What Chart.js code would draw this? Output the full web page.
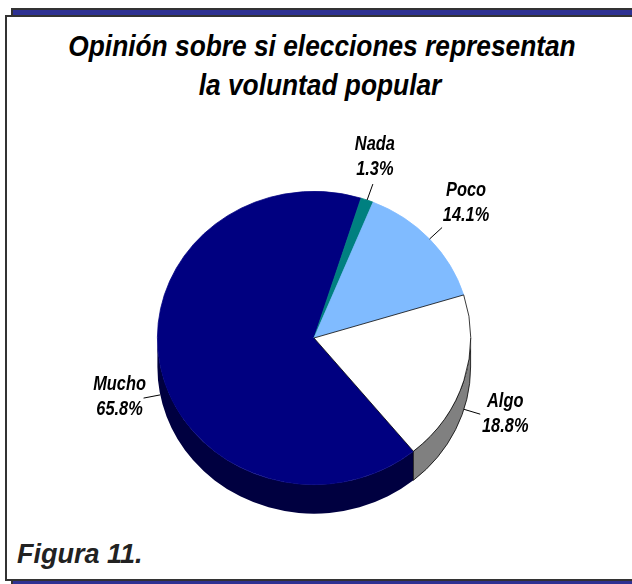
<!DOCTYPE html>
<html>
<head>
    <meta charset="utf-8" />
    <style>
        html, body { margin: 0; padding: 0; background: #fff; }
        #page { position: relative; width: 632px; height: 584px; overflow: hidden; background: #fff; }
        .back { position: absolute; left: 11px; top: 8px; width: 640px; height: 590px; box-sizing: border-box;
            background: #2e3192; border: 2px solid #333; }
        .front { position: absolute; left: 5px; top: 15px; width: 640px; height: 566px; box-sizing: border-box;
            background: #fff; border: 2px solid #333; }
        .title { position: absolute; left: 0; width: 640px; text-align: center; white-space: nowrap; color: #000;
            font: italic bold 30px "Liberation Sans", Arial, sans-serif; line-height: 32px; transform-origin: center; }
        .caption { position: absolute; left: 17px; top: 539px; color: #222;
            font: italic bold 27px "Liberation Sans", Arial, sans-serif; line-height: 30px; }
        canvas { position: absolute; left: 0; top: 0; }
    </style>
</head>
<body>
    <div id="page">
        <div class="back"></div>
        <div class="front"></div>
        <div class="title" style="top: 30px; transform: translateX(2px) scaleX(.877);">Opinión sobre si elecciones representan</div>
        <div class="title" style="top: 69px; transform: translateX(0px) scaleX(.877);">la voluntad popular</div>
        <div class="caption">Figura 11.</div>
        <canvas id="chart" width="632" height="584"></canvas>
    </div>

    <script src="https://cdn.jsdelivr.net/npm/chart.js"></script>
    <script type="text/javascript">
        // datos
        var categorias = ['Mucho', 'Nada', 'Poco', 'Algo'];
        var porcentajes = [65.8, 1.3, 14.1, 18.8];

        var colores = ['#000080', '#008080', '#80bbff', '#ffffff'];
        var bordes = ['#000080', '#008080', '#80bbff', '#000000'];
        var coloresLado = ['#000040', '#004040', '#406080', '#808080'];

        // aplastado del circulo y grosor del lado
        var aplastado = 147 / 157;
        var grueso = 29;
        // donde queda cada etiqueta respecto al final de su linea
        var desplazar = [[-24, -1], [2, -27], [24, -25], [25, 0]];

        // dibuja el lado del pastel y lo aplasta antes de pintar las rebanadas
        var pastel3d = {
            id: 'pastel3d',
            beforeDatasetsDraw: function (chart) {
                var ctx = chart.ctx;
                var arcos = chart.getDatasetMeta(0).data;
                var cx = arcos[0].x, cy = arcos[0].y;
                ctx.save();
                ctx.translate(cx, cy);
                ctx.scale(1, aplastado);
                ctx.translate(-cx, -cy);
                var d = grueso / aplastado;
                arcos.forEach(function (arco, i) {
                    for (var k = 0; k < 2; k++) {
                        var a0 = Math.max(arco.startAngle, k * 2 * Math.PI);
                        var a1 = Math.min(arco.endAngle, k * 2 * Math.PI + Math.PI);
                        if (a1 <= a0) continue;
                        ctx.beginPath();
                        ctx.arc(cx, cy + d, arco.outerRadius, a0, a1);
                        ctx.arc(cx, cy, arco.outerRadius, a1, a0, true);
                        ctx.closePath();
                        ctx.fillStyle = coloresLado[i];
                        ctx.fill();
                        if (categorias[i] === 'Algo') {
                            ctx.strokeStyle = '#000';
                            ctx.lineWidth = 0.8;
                            ctx.stroke();
                        }
                    }
                });
            },
            afterDatasetsDraw: function (chart) {
                var ctx = chart.ctx;
                ctx.restore();
                var arcos = chart.getDatasetMeta(0).data;
                arcos.forEach(function (arco, i) {
                    var medio = (arco.startAngle + arco.endAngle) / 2;
                    var c = Math.cos(medio), s = Math.sin(medio);
                    var x = arco.x + arco.outerRadius * c;
                    var y = arco.y + arco.outerRadius * aplastado * s + (s > 0 ? grueso : 0);
                    var x2 = x + 17 * c, y2 = y + 17 * s;
                    ctx.beginPath();
                    ctx.moveTo(x, y);
                    ctx.lineTo(x2, y2);
                    ctx.strokeStyle = '#000';
                    ctx.lineWidth = 1;
                    ctx.stroke();

                    // etiqueta con nombre y porcentaje
                    var tx = x2 + desplazar[i][0], ty = y2 + desplazar[i][1];
                    ctx.font = 'italic bold 21px "Liberation Sans", Arial, sans-serif';
                    ctx.fillStyle = '#000';
                    ctx.textAlign = 'center';
                    ctx.textBaseline = 'middle';
                    var nombre = categorias[i];
                    var valor = porcentajes[i].toFixed(1) + '%';
                    ctx.fillText(nombre, tx, ty - 12.5, ctx.measureText(nombre).width * 0.78);
                    ctx.fillText(valor, tx, ty + 12.5, ctx.measureText(valor).width * 0.78);
                });
            }
        };

        new Chart(document.getElementById('chart'), {
            type: 'pie',
            data: {
                labels: categorias,
                datasets: [{
                    data: porcentajes,
                    backgroundColor: colores,
                    borderColor: bordes,
                    borderWidth: 0.8
                }]
            },
            options: {
                responsive: false,
                animation: false,
                rotation: 140.6,
                layout: { padding: { left: 157, right: 161, top: 181, bottom: 89 } },
                plugins: {
                    legend: { display: false },
                    tooltip: { enabled: false }
                }
            },
            plugins: [pastel3d]
        });
    </script>
</body>
</html>
